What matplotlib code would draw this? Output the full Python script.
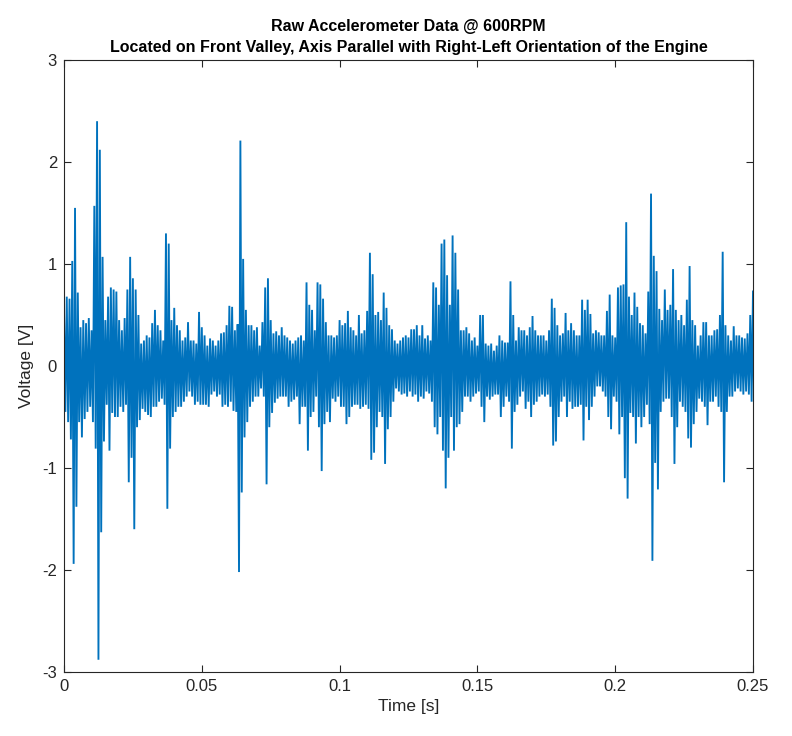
import numpy as np
import matplotlib
matplotlib.use("Agg")
import matplotlib.pyplot as plt

plt.rcParams['font.family'] = ['Liberation Sans', 'DejaVu Sans']
plt.rcParams['axes.unicode_minus'] = False

# Envelope of the raw signal, one bin per 1 ms (0 .. 0.25 s)
bin_step = 0.001
env_hi = [
    0.55, 0.68, 0.66, 1.03, 1.55, 0.72, 0.38, 0.45, 0.42, 0.47,
    0.35, 1.57, 2.40, 2.12, 1.07, 0.45, 0.68, 0.77, 0.75, 0.73,
    0.45, 0.35, 0.47, 0.75, 1.07, 0.86, 0.75, 0.50, 0.22, 0.25,
    0.30, 0.28, 0.42, 0.55, 0.40, 0.35, 0.25, 1.30, 1.20, 0.45,
    0.57, 0.40, 0.35, 0.25, 0.28, 0.43, 0.25, 0.25, 0.22, 0.53,
    0.38, 0.30, 0.20, 0.27, 0.25, 0.20, 0.25, 0.32, 0.33, 0.40,
    0.59, 0.58, 0.35, 0.41, 2.21, 1.05, 0.55, 0.40, 0.40, 0.35,
    0.38, 0.20, 0.43, 0.77, 0.86, 0.45, 0.32, 0.34, 0.30, 0.38,
    0.30, 0.28, 0.25, 0.22, 0.25, 0.28, 0.30, 0.25, 0.82, 0.60,
    0.55, 0.35, 0.82, 0.80, 0.66, 0.43, 0.30, 0.30, 0.28, 0.30,
    0.45, 0.40, 0.42, 0.54, 0.38, 0.35, 0.30, 0.50, 0.32, 0.35,
    0.54, 1.11, 0.90, 0.50, 0.53, 0.45, 0.72, 0.57, 0.40, 0.36,
    0.25, 0.22, 0.25, 0.28, 0.30, 0.28, 0.36, 0.36, 0.40, 0.30,
    0.40, 0.27, 0.30, 0.25, 0.82, 0.77, 0.60, 1.20, 1.24, 0.89,
    0.60, 1.28, 1.11, 0.75, 0.35, 0.35, 0.38, 0.32, 0.25, 0.28,
    0.20, 0.50, 0.50, 0.22, 0.20, 0.22, 0.15, 0.20, 0.30, 0.25,
    0.23, 0.23, 0.83, 0.50, 0.25, 0.38, 0.35, 0.35, 0.30, 0.38,
    0.49, 0.35, 0.30, 0.30, 0.30, 0.25, 0.35, 0.66, 0.57, 0.40,
    0.30, 0.32, 0.52, 0.35, 0.42, 0.35, 0.30, 0.30, 0.65, 0.55,
    0.65, 0.51, 0.32, 0.35, 0.33, 0.30, 0.30, 0.54, 0.70, 0.30,
    0.28, 0.77, 0.79, 0.80, 1.41, 0.68, 0.50, 0.72, 0.58, 0.42,
    0.40, 0.32, 0.73, 1.69, 1.08, 0.93, 0.56, 0.45, 0.75, 0.55,
    0.60, 0.95, 0.55, 0.45, 0.50, 0.40, 0.65, 0.98, 0.45, 0.40,
    0.20, 0.30, 0.43, 0.43, 0.30, 0.30, 0.35, 0.36, 0.50, 1.12,
    0.40, 0.30, 0.25, 0.39, 0.30, 0.30, 0.28, 0.27, 0.32, 0.50,
    0.74,
]
env_lo = [
    -0.45, -0.55, -0.72, -1.94, -1.38, -0.55, -0.70, -0.52, -0.45, -0.40,
    -0.55, -0.81, -2.88, -1.63, -0.74, -0.38, -0.83, -0.46, -0.50, -0.50,
    -0.40, -0.45, -0.38, -1.14, -0.90, -1.60, -0.60, -0.53, -0.42, -0.45,
    -0.48, -0.50, -0.40, -0.40, -0.35, -0.32, -0.38, -1.40, -0.81, -0.50,
    -0.45, -0.40, -0.40, -0.35, -0.30, -0.25, -0.30, -0.38, -0.35, -0.38,
    -0.38, -0.38, -0.40, -0.28, -0.25, -0.30, -0.28, -0.40, -0.38, -0.40,
    -0.35, -0.44, -0.45, -2.02, -1.24, -0.70, -0.55, -0.40, -0.35, -0.30,
    -0.30, -0.22, -0.30, -1.16, -0.60, -0.46, -0.36, -0.32, -0.30, -0.30,
    -0.30, -0.40, -0.35, -0.33, -0.30, -0.57, -0.40, -0.40, -0.83, -0.50,
    -0.45, -0.30, -0.60, -1.03, -0.57, -0.45, -0.55, -0.32, -0.35, -0.30,
    -0.40, -0.40, -0.57, -0.50, -0.40, -0.38, -0.38, -0.42, -0.40, -0.38,
    -0.42, -0.92, -0.85, -0.60, -0.45, -0.50, -0.96, -0.62, -0.50, -0.35,
    -0.22, -0.25, -0.28, -0.27, -0.30, -0.25, -0.30, -0.28, -0.35, -0.30,
    -0.32, -0.25, -0.27, -0.35, -0.60, -0.67, -0.50, -0.83, -1.20, -0.90,
    -0.50, -0.83, -0.60, -0.57, -0.45, -0.30, -0.30, -0.35, -0.30, -0.27,
    -0.25, -0.40, -0.55, -0.30, -0.33, -0.30, -0.28, -0.28, -0.50, -0.40,
    -0.30, -0.35, -0.81, -0.45, -0.38, -0.30, -0.25, -0.42, -0.35, -0.50,
    -0.38, -0.35, -0.30, -0.28, -0.30, -0.28, -0.40, -0.78, -0.74, -0.50,
    -0.35, -0.30, -0.50, -0.35, -0.42, -0.40, -0.40, -0.38, -0.73, -0.40,
    -0.53, -0.40, -0.30, -0.20, -0.20, -0.25, -0.30, -0.50, -0.62, -0.30,
    -0.35, -0.67, -0.50, -1.10, -1.30, -0.46, -0.50, -0.76, -0.50, -0.60,
    -0.50, -0.38, -0.57, -1.91, -0.95, -1.21, -0.45, -0.35, -0.32, -0.32,
    -0.50, -0.96, -0.60, -0.35, -0.40, -0.45, -0.71, -0.80, -0.57, -0.45,
    -0.32, -0.35, -0.40, -0.58, -0.35, -0.35, -0.30, -0.40, -0.45, -1.14,
    -0.45, -0.30, -0.30, -0.25, -0.22, -0.25, -0.28, -0.25, -0.28, -0.35,
    -0.64,
]

x_ticks = [0, 0.05, 0.1, 0.15, 0.2, 0.25]
x_tick_labels = ['0', '0.05', '0.1', '0.15', '0.2', '0.25']
y_ticks = [-3, -2, -1, 0, 1, 2, 3]
y_tick_labels = ['-3', '-2', '-1', '0', '1', '2', '3']

title_text = ("Raw Accelerometer Data @ 600RPM\n"
              "Located on Front Valley, Axis Parallel with Right-Left Orientation of the Engine")
x_label = "Time [s]"
y_label = "Voltage [V]"

# trace alternates between the upper and lower envelope in each bin
hi = np.array(env_hi)
lo = np.array(env_lo)
t_bins = np.arange(len(hi)) * bin_step
t = np.empty(2 * len(hi))
v = np.empty(2 * len(hi))
t[0::2] = t_bins
t[1::2] = t_bins + bin_step / 2
v[0::2] = hi
v[1::2] = lo

fig = plt.figure(figsize=(7.92, 7.36), dpi=100)
ax = fig.add_axes([64 / 792, 1 - 672 / 736, (753 - 64) / 792, (672 - 60) / 736])
ax.plot(t, v, color='#0072BD', linewidth=1.35, solid_joinstyle='miter')

ax.set_xlim(0, 0.25)
ax.set_ylim(-3, 3)
ax.set_xticks(x_ticks)
ax.set_xticklabels(x_tick_labels)
ax.set_yticks(y_ticks)
ax.set_yticklabels(y_tick_labels)

axis_color = '#262626'
for s in ax.spines.values():
    s.set_color(axis_color)
    s.set_linewidth(0.8)
ax.tick_params(direction='in', length=5, width=0.8, colors=axis_color,
               labelsize=12, top=True, right=True, pad=5)
ax.set_xlabel(x_label, fontsize=12.5, color=axis_color, labelpad=4)
ax.set_ylabel(y_label, fontsize=12.5, color=axis_color, labelpad=6)
ax.set_title(title_text, fontsize=11.5, fontweight='bold', color='black',
             linespacing=1.5, pad=6)

fig.savefig('out.png', dpi=100)
